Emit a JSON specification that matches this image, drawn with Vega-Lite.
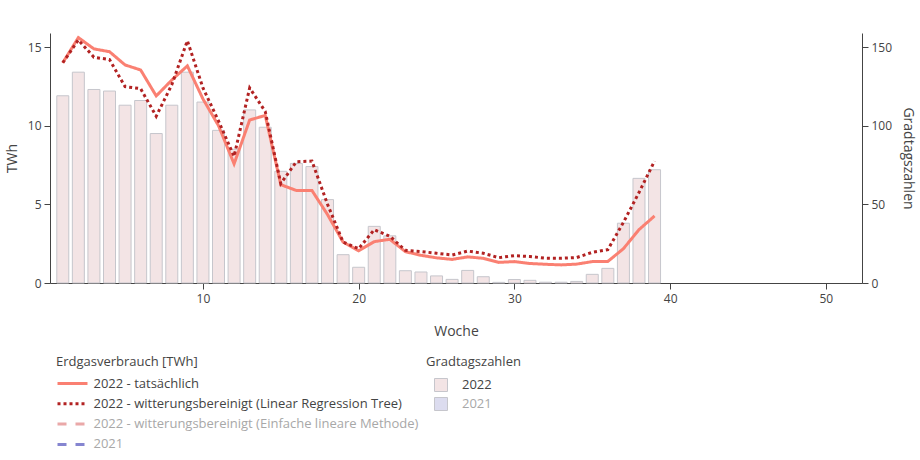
{
  "$schema": "https://vega.github.io/schema/vega-lite/v6.json",
  "width": 812,
  "height": 250,
  "autosize": {"type": "none"},
  "padding": {"left": 50, "top": 33, "right": 58, "bottom": 177},
  "background": "white",
  "config": {
    "font": "Open Sans",
    "view": {"stroke": null},
    "axis": {
      "grid": false,
      "domainColor": "#444",
      "domainWidth": 1,
      "tickColor": "#444",
      "tickSize": 6,
      "labelColor": "#444",
      "labelFontSize": 12,
      "labelFont": "Open Sans",
      "labelPadding": 3,
      "titleColor": "#444",
      "titleFontSize": 14,
      "titleFont": "Open Sans",
      "titleFontWeight": "normal"
    },
    "legend": {
      "padding": 0,
      "titleFont": "Open Sans",
      "titleFontSize": 13,
      "titleFontWeight": "normal",
      "titleColor": "#444",
      "labelFont": "Open Sans",
      "labelFontSize": 13,
      "labelColor": "#444"
    }
  },
  "datasets": {
    "gtz": [
      {"woche": 1, "gtz": 119, "jahr": "2022"},
      {"woche": 2, "gtz": 134, "jahr": "2022"},
      {"woche": 3, "gtz": 123, "jahr": "2022"},
      {"woche": 4, "gtz": 122, "jahr": "2022"},
      {"woche": 5, "gtz": 113, "jahr": "2022"},
      {"woche": 6, "gtz": 116, "jahr": "2022"},
      {"woche": 7, "gtz": 95, "jahr": "2022"},
      {"woche": 8, "gtz": 113, "jahr": "2022"},
      {"woche": 9, "gtz": 134, "jahr": "2022"},
      {"woche": 10, "gtz": 115, "jahr": "2022"},
      {"woche": 11, "gtz": 97, "jahr": "2022"},
      {"woche": 12, "gtz": 85, "jahr": "2022"},
      {"woche": 13, "gtz": 110, "jahr": "2022"},
      {"woche": 14, "gtz": 99, "jahr": "2022"},
      {"woche": 15, "gtz": 71, "jahr": "2022"},
      {"woche": 16, "gtz": 76, "jahr": "2022"},
      {"woche": 17, "gtz": 74, "jahr": "2022"},
      {"woche": 18, "gtz": 53, "jahr": "2022"},
      {"woche": 19, "gtz": 18, "jahr": "2022"},
      {"woche": 20, "gtz": 10, "jahr": "2022"},
      {"woche": 21, "gtz": 36, "jahr": "2022"},
      {"woche": 22, "gtz": 30, "jahr": "2022"},
      {"woche": 23, "gtz": 7.8, "jahr": "2022"},
      {"woche": 24, "gtz": 7, "jahr": "2022"},
      {"woche": 25, "gtz": 4.5, "jahr": "2022"},
      {"woche": 26, "gtz": 2.3, "jahr": "2022"},
      {"woche": 27, "gtz": 8, "jahr": "2022"},
      {"woche": 28, "gtz": 4, "jahr": "2022"},
      {"woche": 29, "gtz": 0.4, "jahr": "2022"},
      {"woche": 30, "gtz": 2.2, "jahr": "2022"},
      {"woche": 31, "gtz": 1.7, "jahr": "2022"},
      {"woche": 32, "gtz": 0.5, "jahr": "2022"},
      {"woche": 33, "gtz": 0.5, "jahr": "2022"},
      {"woche": 34, "gtz": 1, "jahr": "2022"},
      {"woche": 35, "gtz": 5.5, "jahr": "2022"},
      {"woche": 36, "gtz": 9.3, "jahr": "2022"},
      {"woche": 37, "gtz": 38, "jahr": "2022"},
      {"woche": 38, "gtz": 66.5, "jahr": "2022"},
      {"woche": 39, "gtz": 72, "jahr": "2022"}
    ],
    "gas": [
      {"woche": 1, "twh": 14.0, "serie": "2022 - tatsächlich"},
      {"woche": 2, "twh": 15.6, "serie": "2022 - tatsächlich"},
      {"woche": 3, "twh": 14.88, "serie": "2022 - tatsächlich"},
      {"woche": 4, "twh": 14.7, "serie": "2022 - tatsächlich"},
      {"woche": 5, "twh": 13.86, "serie": "2022 - tatsächlich"},
      {"woche": 6, "twh": 13.54, "serie": "2022 - tatsächlich"},
      {"woche": 7, "twh": 11.89, "serie": "2022 - tatsächlich"},
      {"woche": 8, "twh": 12.9, "serie": "2022 - tatsächlich"},
      {"woche": 9, "twh": 13.8, "serie": "2022 - tatsächlich"},
      {"woche": 10, "twh": 11.7, "serie": "2022 - tatsächlich"},
      {"woche": 11, "twh": 10.0, "serie": "2022 - tatsächlich"},
      {"woche": 12, "twh": 7.57, "serie": "2022 - tatsächlich"},
      {"woche": 13, "twh": 10.36, "serie": "2022 - tatsächlich"},
      {"woche": 14, "twh": 10.65, "serie": "2022 - tatsächlich"},
      {"woche": 15, "twh": 6.25, "serie": "2022 - tatsächlich"},
      {"woche": 16, "twh": 5.88, "serie": "2022 - tatsächlich"},
      {"woche": 17, "twh": 5.88, "serie": "2022 - tatsächlich"},
      {"woche": 18, "twh": 4.35, "serie": "2022 - tatsächlich"},
      {"woche": 19, "twh": 2.6, "serie": "2022 - tatsächlich"},
      {"woche": 20, "twh": 2.05, "serie": "2022 - tatsächlich"},
      {"woche": 21, "twh": 2.63, "serie": "2022 - tatsächlich"},
      {"woche": 22, "twh": 2.78, "serie": "2022 - tatsächlich"},
      {"woche": 23, "twh": 1.99, "serie": "2022 - tatsächlich"},
      {"woche": 24, "twh": 1.76, "serie": "2022 - tatsächlich"},
      {"woche": 25, "twh": 1.6, "serie": "2022 - tatsächlich"},
      {"woche": 26, "twh": 1.5, "serie": "2022 - tatsächlich"},
      {"woche": 27, "twh": 1.66, "serie": "2022 - tatsächlich"},
      {"woche": 28, "twh": 1.57, "serie": "2022 - tatsächlich"},
      {"woche": 29, "twh": 1.31, "serie": "2022 - tatsächlich"},
      {"woche": 30, "twh": 1.36, "serie": "2022 - tatsächlich"},
      {"woche": 31, "twh": 1.24, "serie": "2022 - tatsächlich"},
      {"woche": 32, "twh": 1.19, "serie": "2022 - tatsächlich"},
      {"woche": 33, "twh": 1.15, "serie": "2022 - tatsächlich"},
      {"woche": 34, "twh": 1.2, "serie": "2022 - tatsächlich"},
      {"woche": 35, "twh": 1.36, "serie": "2022 - tatsächlich"},
      {"woche": 36, "twh": 1.37, "serie": "2022 - tatsächlich"},
      {"woche": 37, "twh": 2.18, "serie": "2022 - tatsächlich"},
      {"woche": 38, "twh": 3.39, "serie": "2022 - tatsächlich"},
      {"woche": 39, "twh": 4.26, "serie": "2022 - tatsächlich"},
      {"woche": 1, "twh": 14.0, "serie": "2022 - witterungsbereinigt (Linear Regression Tree)"},
      {"woche": 2, "twh": 15.45, "serie": "2022 - witterungsbereinigt (Linear Regression Tree)"},
      {"woche": 3, "twh": 14.35, "serie": "2022 - witterungsbereinigt (Linear Regression Tree)"},
      {"woche": 4, "twh": 14.2, "serie": "2022 - witterungsbereinigt (Linear Regression Tree)"},
      {"woche": 5, "twh": 12.48, "serie": "2022 - witterungsbereinigt (Linear Regression Tree)"},
      {"woche": 6, "twh": 12.35, "serie": "2022 - witterungsbereinigt (Linear Regression Tree)"},
      {"woche": 7, "twh": 10.6, "serie": "2022 - witterungsbereinigt (Linear Regression Tree)"},
      {"woche": 8, "twh": 12.6, "serie": "2022 - witterungsbereinigt (Linear Regression Tree)"},
      {"woche": 9, "twh": 15.4, "serie": "2022 - witterungsbereinigt (Linear Regression Tree)"},
      {"woche": 10, "twh": 12.4, "serie": "2022 - witterungsbereinigt (Linear Regression Tree)"},
      {"woche": 11, "twh": 10.3, "serie": "2022 - witterungsbereinigt (Linear Regression Tree)"},
      {"woche": 12, "twh": 8.05, "serie": "2022 - witterungsbereinigt (Linear Regression Tree)"},
      {"woche": 13, "twh": 12.4, "serie": "2022 - witterungsbereinigt (Linear Regression Tree)"},
      {"woche": 14, "twh": 10.9, "serie": "2022 - witterungsbereinigt (Linear Regression Tree)"},
      {"woche": 15, "twh": 6.32, "serie": "2022 - witterungsbereinigt (Linear Regression Tree)"},
      {"woche": 16, "twh": 7.71, "serie": "2022 - witterungsbereinigt (Linear Regression Tree)"},
      {"woche": 17, "twh": 7.75, "serie": "2022 - witterungsbereinigt (Linear Regression Tree)"},
      {"woche": 18, "twh": 5.0, "serie": "2022 - witterungsbereinigt (Linear Regression Tree)"},
      {"woche": 19, "twh": 2.6, "serie": "2022 - witterungsbereinigt (Linear Regression Tree)"},
      {"woche": 20, "twh": 2.18, "serie": "2022 - witterungsbereinigt (Linear Regression Tree)"},
      {"woche": 21, "twh": 3.39, "serie": "2022 - witterungsbereinigt (Linear Regression Tree)"},
      {"woche": 22, "twh": 2.97, "serie": "2022 - witterungsbereinigt (Linear Regression Tree)"},
      {"woche": 23, "twh": 2.08, "serie": "2022 - witterungsbereinigt (Linear Regression Tree)"},
      {"woche": 24, "twh": 2.0, "serie": "2022 - witterungsbereinigt (Linear Regression Tree)"},
      {"woche": 25, "twh": 1.89, "serie": "2022 - witterungsbereinigt (Linear Regression Tree)"},
      {"woche": 26, "twh": 1.78, "serie": "2022 - witterungsbereinigt (Linear Regression Tree)"},
      {"woche": 27, "twh": 2.03, "serie": "2022 - witterungsbereinigt (Linear Regression Tree)"},
      {"woche": 28, "twh": 1.89, "serie": "2022 - witterungsbereinigt (Linear Regression Tree)"},
      {"woche": 29, "twh": 1.61, "serie": "2022 - witterungsbereinigt (Linear Regression Tree)"},
      {"woche": 30, "twh": 1.74, "serie": "2022 - witterungsbereinigt (Linear Regression Tree)"},
      {"woche": 31, "twh": 1.68, "serie": "2022 - witterungsbereinigt (Linear Regression Tree)"},
      {"woche": 32, "twh": 1.58, "serie": "2022 - witterungsbereinigt (Linear Regression Tree)"},
      {"woche": 33, "twh": 1.57, "serie": "2022 - witterungsbereinigt (Linear Regression Tree)"},
      {"woche": 34, "twh": 1.62, "serie": "2022 - witterungsbereinigt (Linear Regression Tree)"},
      {"woche": 35, "twh": 1.95, "serie": "2022 - witterungsbereinigt (Linear Regression Tree)"},
      {"woche": 36, "twh": 2.12, "serie": "2022 - witterungsbereinigt (Linear Regression Tree)"},
      {"woche": 37, "twh": 3.85, "serie": "2022 - witterungsbereinigt (Linear Regression Tree)"},
      {"woche": 38, "twh": 5.75, "serie": "2022 - witterungsbereinigt (Linear Regression Tree)"},
      {"woche": 39, "twh": 7.75, "serie": "2022 - witterungsbereinigt (Linear Regression Tree)"}
    ]
  },
  "layer": [
    {
      "data": {"name": "gtz"},
      "mark": {"type": "bar", "size": 12, "stroke": "#c6c6cc", "strokeWidth": 1},
      "encoding": {
        "x": {
          "field": "woche",
          "type": "quantitative",
          "scale": {"domain": [0.5, 52], "nice": false, "zero": false},
          "axis": {"title": "Woche", "values": [10, 20, 30, 40, 50], "titlePadding": 20, "labelPadding": 4}
        },
        "y": {
          "field": "gtz",
          "type": "quantitative",
          "scale": {"domain": [0, 158.9], "nice": false},
          "axis": {"orient": "right", "title": "Gradtagszahlen", "values": [0, 50, 100, 150], "titlePadding": 9}
        },
        "fill": {
          "field": "jahr",
          "type": "nominal",
          "scale": {"domain": ["2022", "2021"], "range": ["#f3e4e5", "#dcdcef"]},
          "legend": {
            "title": "Gradtagszahlen",
            "orient": "none",
            "legendX": 376,
            "legendY": 323,
            "direction": "vertical",
            "symbolType": "square",
            "symbolSize": 169,
            "symbolStrokeColor": "#c6c6cc",
            "symbolStrokeWidth": 1,
            "symbolOffset": 8,
            "labelOffset": 14,
            "rowPadding": 1,
            "titlePadding": 9,
            "encode": {
              "labels": {"update": {"fill": {"signal": "datum.value == '2021' ? '#a8a8a8' : '#444444'"}}}
            }
          }
        }
      }
    },
    {
      "data": {"name": "gas"},
      "mark": {"type": "line", "strokeWidth": 3},
      "encoding": {
        "x": {"field": "woche", "type": "quantitative"},
        "y": {
          "field": "twh",
          "type": "quantitative",
          "scale": {"domain": [0, 15.89], "nice": false},
          "axis": {"orient": "left", "title": "TWh", "values": [0, 5, 10, 15], "titlePadding": 8}
        },
        "color": {
          "field": "serie",
          "type": "nominal",
          "scale": {
            "domain": ["2022 - tatsächlich", "2022 - witterungsbereinigt (Linear Regression Tree)", "2022 - witterungsbereinigt (Einfache lineare Methode)", "2021"],
            "range": ["#fa8072", "#b22222", "#eaa8a8", "#8585d0"]
          },
          "legend": {
            "title": "Erdgasverbrauch [TWh]",
            "orient": "none",
            "legendX": 6,
            "legendY": 323,
            "direction": "vertical",
            "symbolType": "M-3,0H3",
            "symbolSize": 100,
            "symbolStrokeWidth": 3,
            "symbolOffset": 10,
            "labelOffset": 14.5,
            "rowPadding": 6.3,
            "titlePadding": 8,
            "labelLimit": 400,
            "encode": {
              "labels": {"update": {"fill": {"signal": "(datum.value == '2021' || datum.value == '2022 - witterungsbereinigt (Einfache lineare Methode)') ? '#a8a8a8' : '#444444'"}}}
            }
          }
        },
        "strokeDash": {
          "field": "serie",
          "type": "nominal",
          "scale": {
            "domain": ["2022 - tatsächlich", "2022 - witterungsbereinigt (Linear Regression Tree)", "2022 - witterungsbereinigt (Einfache lineare Methode)", "2021"],
            "range": [[1, 0], [3, 3], [9, 9], [9, 9]]
          },
          "legend": {"title": "Erdgasverbrauch [TWh]"}
        }
      }
    }
  ],
  "resolve": {"scale": {"y": "independent"}}
}
